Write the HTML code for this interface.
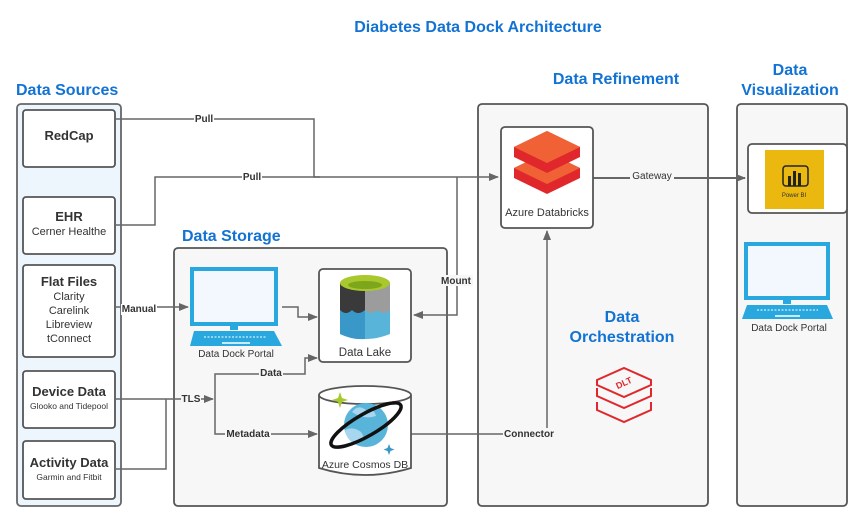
<!DOCTYPE html>
<html><head><meta charset="utf-8"><style>
html,body{margin:0;padding:0;background:#fff;}
svg{display:block;}
text{font-family:"Liberation Sans",Arial,sans-serif;}
.t{fill:#1273d4;font-weight:bold;font-size:16px;}
.b{fill:#333;font-weight:bold;font-size:13px;text-anchor:middle;}
.s{fill:#333;font-size:11px;text-anchor:middle;}
.l{fill:#333;font-weight:bold;font-size:10px;text-anchor:middle;}
.ln{stroke:#666;stroke-width:1.5;fill:none;}
.bx{fill:#fff;stroke:#555;stroke-width:1.8;}
</style></head><body>
<svg width="856" height="528" viewBox="0 0 856 528" xmlns="http://www.w3.org/2000/svg">
<defs><marker id="a" markerWidth="10" markerHeight="8" refX="9" refY="4" orient="auto" markerUnits="userSpaceOnUse"><path d="M0,0 L10,4 L0,8z" fill="#666"/></marker></defs>
<text x="478" y="32" class="t" text-anchor="middle">Diabetes Data Dock Architecture</text>
<text x="16" y="95" class="t">Data Sources</text>
<text x="616" y="84" class="t" text-anchor="middle">Data Refinement</text>
<text x="790" y="75" class="t" text-anchor="middle">Data</text>
<text x="790" y="95" class="t" text-anchor="middle">Visualization</text>
<text x="182" y="241" class="t">Data Storage</text>

<rect x="17" y="104" width="104" height="402" rx="4" fill="#eef6fd" stroke="#666" stroke-width="1.8"/>
<rect x="174" y="248" width="273" height="258" rx="4" fill="#f7f7f7" stroke="#555" stroke-width="1.8"/>
<rect x="478" y="104" width="230" height="402" rx="4" fill="#f7f7f7" stroke="#555" stroke-width="1.8"/>
<rect x="737" y="104" width="110" height="402" rx="4" fill="#f7f7f7" stroke="#555" stroke-width="1.8"/>

<rect x="23" y="110" width="92" height="57" rx="3" class="bx"/>
<text x="69" y="140" class="b">RedCap</text>
<rect x="23" y="197" width="92" height="57" rx="3" class="bx"/>
<text x="69" y="221" class="b">EHR</text><text x="69" y="235" class="s">Cerner Healthe</text>
<rect x="23" y="265" width="92" height="92" rx="3" class="bx"/>
<text x="69" y="286" class="b">Flat Files</text>
<text x="69" y="300" class="s">Clarity</text><text x="69" y="314" class="s">Carelink</text>
<text x="69" y="328" class="s">Libreview</text><text x="69" y="342" class="s">tConnect</text>
<rect x="23" y="371" width="92" height="57" rx="3" class="bx"/>
<text x="69" y="396" class="b">Device Data</text><text x="69" y="409" class="s" style="font-size:8.5px">Glooko and Tidepool</text>
<rect x="23" y="441" width="92" height="58" rx="3" class="bx"/>
<text x="69" y="467" class="b">Activity Data</text><text x="69" y="480" class="s" style="font-size:8.5px">Garmin and Fitbit</text>

<!-- connectors -->
<path class="ln" d="M115,119 H314 V177 H498" marker-end="url(#a)"/>
<path class="ln" d="M115,225 H155 V177 H320"/>
<path class="ln" d="M457,177 V315 H414" marker-end="url(#a)"/>
<path class="ln" d="M593,178 H745" marker-end="url(#a)" style="stroke-width:2"/>
<path class="ln" d="M115,307 H188" marker-end="url(#a)"/>
<path class="ln" d="M282,307 H298 V317 H317" marker-end="url(#a)"/>
<path class="ln" d="M115,399 H213" marker-end="url(#a)"/>
<path class="ln" d="M115,469 H166 V399"/>
<path class="ln" d="M215,399 V374 H305 V358 H317" marker-end="url(#a)"/>
<path class="ln" d="M215,399 V434 H317" marker-end="url(#a)"/>
<path class="ln" d="M411,434 H547 V231" marker-end="url(#a)"/>
<g class="l">
<rect x="194" y="113" width="20" height="11" fill="#fff"/><text x="204" y="122">Pull</text>
<rect x="242" y="171" width="20" height="11" fill="#fff"/><text x="252" y="180">Pull</text>
<rect x="439" y="275" width="34" height="11" fill="#f7f7f7"/><text x="456" y="284">Mount</text>
<rect x="630" y="170" width="44" height="11" fill="#f7f7f7"/><text x="652" y="179" style="font-weight:normal">Gateway</text>
<rect x="121" y="304" width="36" height="11" fill="#fff"/><text x="139" y="312">Manual</text>
<rect x="181" y="393" width="20" height="11" fill="#f7f7f7"/><text x="191" y="402">TLS</text>
<rect x="259" y="367" width="24" height="11" fill="#f7f7f7"/><text x="271" y="376">Data</text>
<rect x="225" y="428" width="46" height="11" fill="#f7f7f7"/><text x="248" y="437">Metadata</text>
<rect x="503" y="428" width="52" height="11" fill="#f7f7f7"/><text x="529" y="437">Connector</text>
</g>

<!-- storage laptop -->
<rect x="192" y="269" width="84" height="55" fill="#f2f8fd" stroke="#29a8e0" stroke-width="4"/>
<rect x="230" y="325" width="8" height="5" fill="#29a8e0"/>
<path d="M194,331 H274 L282,346 H190 Z" fill="#29a8e0"/>
<line x1="204" y1="337" x2="266" y2="337" stroke="#fff" stroke-dasharray="2,1.5"/>
<line x1="222" y1="343" x2="250" y2="343" stroke="#fff" stroke-width="1.5"/>
<text x="236" y="357" class="s" style="font-size:10px">Data Dock Portal</text>

<!-- data lake -->
<rect x="319" y="269" width="92" height="93" rx="4" class="bx"/>
<path d="M340,283 V334 Q365,344 390,334 V283 Z" fill="#59b4d9"/>
<path d="M340,283 V334 Q352,340 365,339 V283 Z" fill="#3a98c8"/>
<path d="M340,283 V310 Q346,316 352,310 Q358,316 365,310 V283 Z" fill="#3a3a3a"/>
<path d="M365,283 V310 Q371,316 377,310 Q383,316 390,310 V283 Z" fill="#9c9c9c"/>
<ellipse cx="365" cy="283" rx="25" ry="8" fill="#a8c82e"/>
<ellipse cx="365" cy="285" rx="17" ry="4" fill="#7da61a"/>
<text x="365" y="356" class="s" style="font-size:11.5px">Data Lake</text>

<!-- cosmos -->
<path d="M319,395 V468 Q365,482 411,468 V395" class="bx"/>
<ellipse cx="365" cy="395" rx="46" ry="9" class="bx"/>
<circle cx="366" cy="425" r="22" fill="#59b4d9"/>
<path d="M352,412 q6,-8 14,-2 q8,-2 10,6 q-12,4 -24,-4z" fill="#a7d6ef"/>
<path d="M345,430 q8,-4 16,2 q6,8 -4,12 q-10,-2 -12,-14z" fill="#a7d6ef"/>
<ellipse cx="366" cy="425" rx="40" ry="11" transform="rotate(-30 366 425)" fill="none" stroke="#111" stroke-width="3.5"/>
<path d="M340,392 l2,6 6,2 -6,2 -2,6 -2,-6 -6,-2 6,-2z" fill="#a8c82e"/>
<path d="M389,444 l1.5,4 4,1.5 -4,1.5 -1.5,4 -1.5,-4 -4,-1.5 4,-1.5z" fill="#3a98c8"/>
<text x="365" y="468" class="s" style="font-size:10.5px">Azure Cosmos DB</text>

<!-- databricks -->
<rect x="501" y="127" width="92" height="101" rx="4" class="bx"/>
<path d="M514,168 L547,152 L580,168 L580,178 L547,194 L514,178 Z" fill="#e0282c"/>
<path d="M514,168 L547,184 L580,168 L547,152 Z" fill="#f06236"/>
<path d="M514,147 L547,131 L580,147 L580,157 L547,173 L514,157 Z" fill="#e0282c"/>
<path d="M514,147 L547,163 L580,147 L547,131 Z" fill="#f06236"/>
<text x="547" y="216" class="s" style="font-size:11px">Azure Databricks</text>

<text x="622" y="322" class="t" text-anchor="middle">Data</text>
<text x="622" y="342" class="t" text-anchor="middle">Orchestration</text>
<!-- DLT icon -->
<g fill="none" stroke="#e0282c" stroke-width="2">
<path d="M597,380 L624,368 L651,380 L651,385 L624,397 L597,385 Z"/>
<path d="M597,388 V396 L624,408 L651,396 V388"/>
<path d="M597,402 V410 L624,422 L651,410 V402"/>
</g>
<text x="624" y="386" fill="#e0282c" font-size="9" font-weight="bold" text-anchor="middle" transform="rotate(-25 624 383)">DLT</text>

<!-- power bi -->
<rect x="748" y="144" width="99" height="69" rx="4" class="bx"/>
<rect x="765" y="150" width="59" height="59" fill="#eab80f"/>
<rect x="783" y="166" width="25" height="20" rx="3" fill="none" stroke="#222" stroke-width="1.5"/>
<rect x="788" y="176" width="3" height="10" fill="#222"/><rect x="793" y="171" width="3" height="15" fill="#222"/><rect x="798" y="173" width="3" height="13" fill="#222"/>
<text x="794" y="197" font-size="6" fill="#333" text-anchor="middle">Power BI</text>

<!-- viz laptop -->
<rect x="746" y="244" width="82" height="54" fill="#f2f8fd" stroke="#29a8e0" stroke-width="4"/>
<rect x="783" y="300" width="8" height="4" fill="#29a8e0"/>
<path d="M747,305 H827 L833,319 H742 Z" fill="#29a8e0"/>
<line x1="757" y1="310" x2="818" y2="310" stroke="#fff" stroke-dasharray="2,1.5"/>
<line x1="775" y1="316" x2="800" y2="316" stroke="#fff" stroke-width="1.5"/>
<text x="789" y="331" class="s" style="font-size:10px">Data Dock Portal</text>
</svg>
</body></html>
